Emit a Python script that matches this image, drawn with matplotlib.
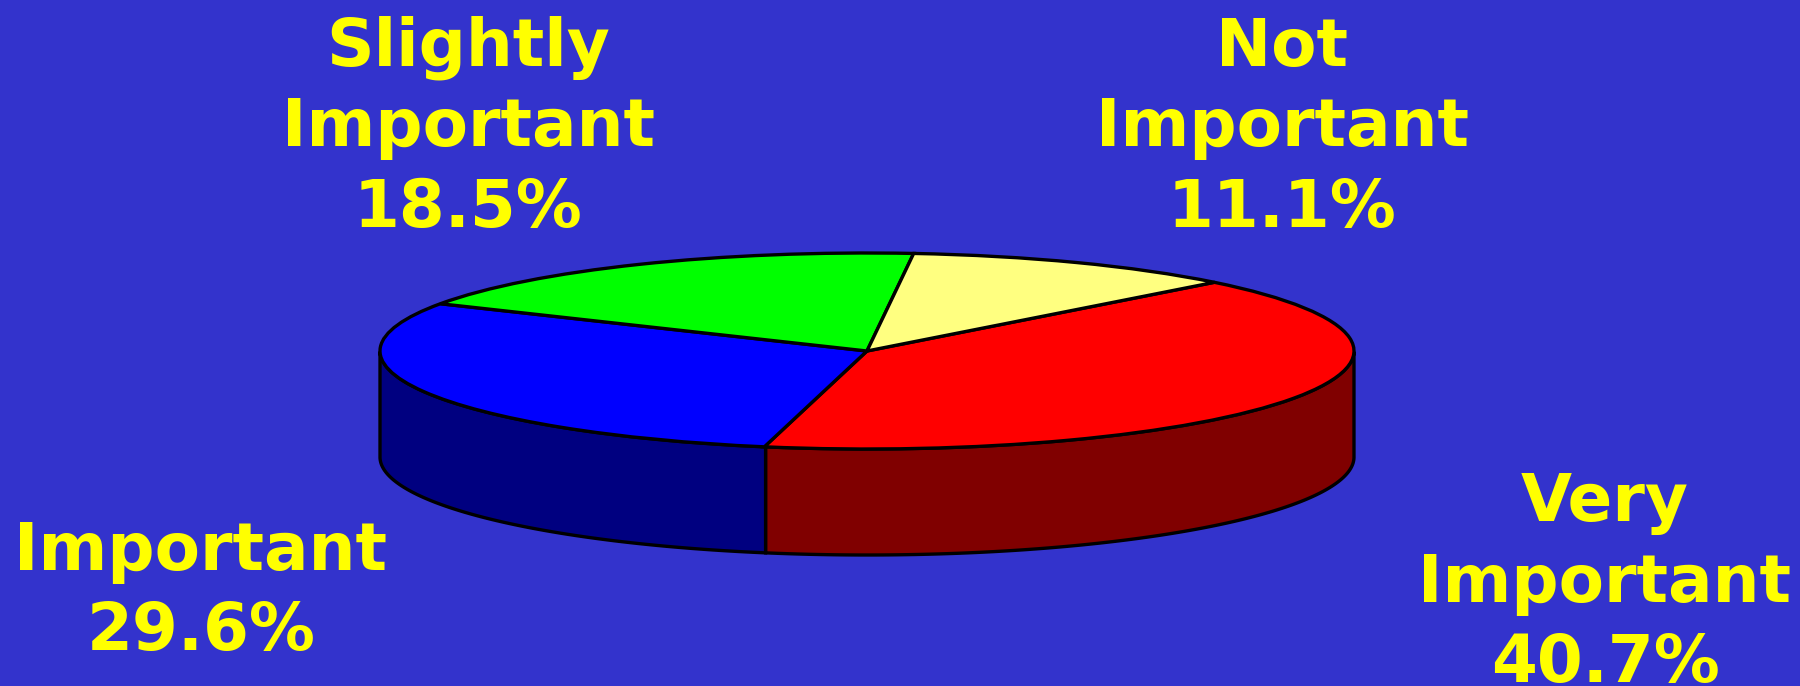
import matplotlib
matplotlib.use('Agg')
import matplotlib.pyplot as plt
import numpy as np

labels = ['Very\nImportant\n40.7%', 'Important\n29.6%', 'Slightly\nImportant\n18.5%', 'Not\nImportant\n11.1%']
values = [40.7, 29.6, 18.5, 11.1]
top_colors = ['#ff0000', '#0000ff', '#00ff00', '#ffff80']
side_colors = ['#800000', '#000080', '#008000', '#808040']
label_pos = [(1605, 682), (201, 650), (468, 227), (1282, 227)]  # centre x, last baseline

W, H = 1800, 686
cx, cy = 867, 351      # pie centre in pixels
rx, ry = 487, 98       # ellipse radii
depth = 106 / ry

fig = plt.figure(figsize=(18, 6.86), dpi=100, facecolor='#3333cc')
ax = fig.add_axes([0, 0, 1, 1])

# wall of the pie, only the front half of each slice is seen
start = 44.5
edges = start - np.cumsum([0] + values) * 3.6
for i in range(len(values)):
    a0, a1 = edges[i + 1], edges[i]
    t = np.radians(np.linspace(a0, a1, 200))
    t = t[np.sin(t) <= 0]
    if len(t) == 0:
        continue
    x = np.cos(t)
    y = np.sin(t)
    ax.fill(np.r_[x, x[::-1]], np.r_[y, y[::-1] - depth], facecolor=side_colors[i],
            edgecolor='black', linewidth=2.4, zorder=1)

ax.pie(values, colors=top_colors, startangle=start, counterclock=False,
       wedgeprops={'edgecolor': 'black', 'linewidth': 2.4, 'zorder': 2})

ax.set_aspect('auto')
ax.set_xlim(-cx / rx, (W - cx) / rx)
ax.set_ylim(-(H - cy) / ry, cy / ry)
ax.axis('off')

for lab, (px, py) in zip(labels, label_pos):
    ax.text((px - cx) / rx, (cy - py) / ry, lab, ha='center', va='baseline', multialignment='center',
            color='#ffff00', family='DejaVu Sans', weight='bold', fontsize=47.5, linespacing=1.33)

fig.savefig('out.png', dpi=100, facecolor=fig.get_facecolor())
